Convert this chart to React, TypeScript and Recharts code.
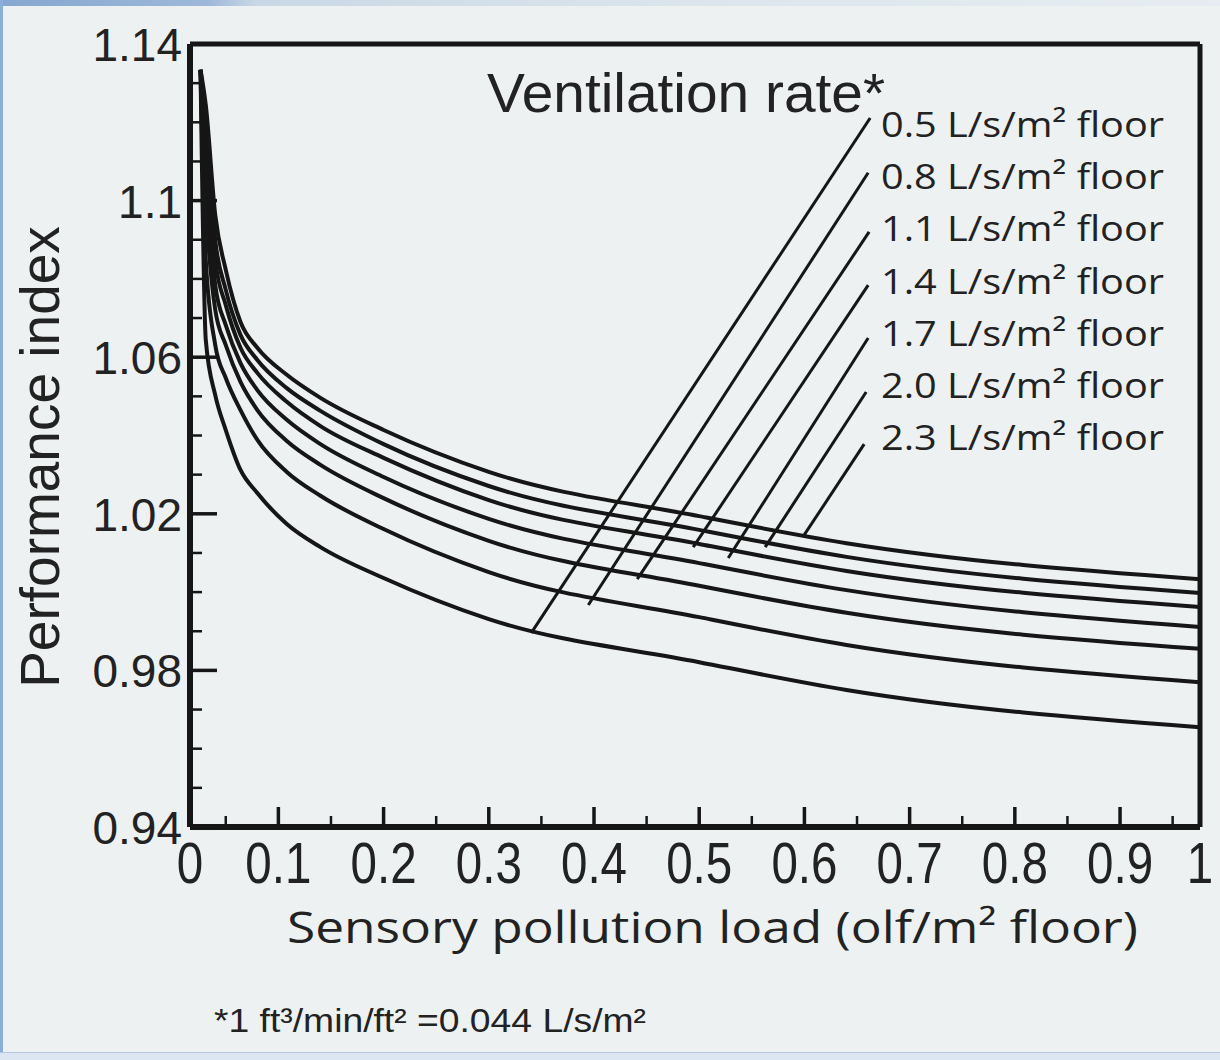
import { LineChart, Line, XAxis, YAxis, ReferenceLine } from 'recharts'

// sensory pollution load (x) sampled along every curve
const pollutionLoad = [0.026, 0.031, 0.04, 0.05, 0.064, 0.08, 0.108, 0.14, 0.2, 0.3, 0.5, 0.64, 0.976]

// performance index per ventilation rate (L/s/m2 floor)
const rate05 = [1.1334, 1.0644, 1.0503, 1.0414, 1.0312, 1.0253, 1.0174, 1.0115, 1.0036, 0.9931, 0.9821, 0.975, 0.9655]
const rate08 = [1.1334, 1.0848, 1.0631, 1.0547, 1.0465, 1.0389, 1.0307, 1.0246, 1.0161, 1.0051, 0.9936, 0.9865, 0.977]
const rate11 = [1.1334, 1.1002, 1.0721, 1.0631, 1.0537, 1.0465, 1.0386, 1.0325, 1.024, 1.0131, 1.0016, 0.9947, 0.9855]
const rate14 = [1.1334, 1.1104, 1.0784, 1.0682, 1.0585, 1.0516, 1.044, 1.0378, 1.0294, 1.0187, 1.0074, 1.0005, 0.9911]
const rate17 = [1.1334, 1.1168, 1.0848, 1.0733, 1.0624, 1.056, 1.0486, 1.0424, 1.0343, 1.0235, 1.0123, 1.0054, 0.9962]
const rate20 = [1.1334, 1.1211, 1.0899, 1.0772, 1.0657, 1.0593, 1.0521, 1.0463, 1.0378, 1.0271, 1.0159, 1.009, 0.9998]
const rate23 = [1.1334, 1.1244, 1.0963, 1.0823, 1.069, 1.0624, 1.0555, 1.0496, 1.0414, 1.0307, 1.0194, 1.0125, 1.0033]

const rateLabels = ['0.5', '0.8', '1.1', '1.4', '1.7', '2.0', '2.3']
const rateKeys = ['r05', 'r08', 'r11', 'r14', 'r17', 'r20', 'r23']
const rateSeries = [rate05, rate08, rate11, rate14, rate17, rate20, rate23]

// leader lines from each label down to its curve
const leaderTopX = [0.6625, 0.6606, 0.6615, 0.6606, 0.6606, 0.6587, 0.6568]
const leaderTopY = [1.1211, 1.1071, 1.092, 1.0784, 1.0649, 1.0511, 1.0378]
const leaderEndX = [0.3404, 0.3946, 0.4411, 0.4943, 0.5276, 0.5627, 0.5998]
const leaderEndY = [0.9896, 0.9967, 1.0033, 1.0115, 1.0087, 1.0115, 1.0146]

const X_MIN = 0.016
const X_MAX = 0.976
const xTicks = [0.016, 0.05, 0.1, 0.15, 0.2, 0.25, 0.3, 0.35, 0.4, 0.45, 0.5, 0.55, 0.6, 0.65, 0.7, 0.75, 0.8, 0.85, 0.9, 0.95, 0.976]
const xMajor = [0.016, 0.1, 0.2, 0.3, 0.4, 0.5, 0.6, 0.7, 0.8, 0.9, 0.976]
const xMajorLabels = ['0', '0.1', '0.2', '0.3', '0.4', '0.5', '0.6', '0.7', '0.8', '0.9', '1']

const yTicks = [0.94, 0.95, 0.96, 0.97, 0.98, 0.99, 1.0, 1.01, 1.02, 1.03, 1.04, 1.05, 1.06, 1.07, 1.08, 1.09, 1.1, 1.11, 1.12, 1.13, 1.14]
const yMajor = [0.94, 0.98, 1.02, 1.06, 1.1, 1.14]
const yMajorLabels = ['0.94', '0.98', '1.02', '1.06', '1.1', '1.14']

const data = pollutionLoad.map((x, i) => {
  const row: Record<string, number> = { x }
  rateKeys.forEach((k, j) => { row[k] = rateSeries[j][i] })
  return row
})

const INK = '#161616'
const TEXT = '#222'
const ARIAL = '"Liberation Sans", Arial, sans-serif'
const HUMANIST = '"Open Sans", "Noto Sans", sans-serif'

const near = (a: number, b: number) => Math.abs(a - b) < 1e-6

function YTick({ x, y, payload }: any) {
  const i = yMajor.findIndex(v => near(v, payload.value))
  const major = i >= 0
  return (
    <g>
      <line x1={x} x2={x + (major ? 27 : 12)} y1={y} y2={y} stroke={INK} strokeWidth={major ? 3.5 : 2.5} />
      {major && (
        <text x={x - 8} y={y + 17} textAnchor="end" fontSize={46} fontFamily={ARIAL} fill={TEXT}>
          {yMajorLabels[i]}
        </text>
      )}
    </g>
  )
}

function XTick({ x, y, payload }: any) {
  const v = payload.value
  const i = xMajor.findIndex(t => near(t, v))
  const edge = near(v, X_MIN) || near(v, X_MAX)
  return (
    <g>
      {!edge && (
        <line x1={x} x2={x} y1={y} y2={y - (i >= 0 ? 20 : 11)} stroke={INK} strokeWidth={i >= 0 ? 3.5 : 2.5} />
      )}
      {i >= 0 && (
        <text
          transform={`translate(${x},${y + 56}) scale(0.82,1)`}
          textAnchor="middle"
          fontSize={58}
          fontFamily={ARIAL}
          fill={TEXT}
        >
          {xMajorLabels[i]}
        </text>
      )}
    </g>
  )
}

export default function App() {
  return (
    <div style={{ position: 'absolute', left: 0, top: 0, width: 1220, height: 1060, background: '#edf1f2', overflow: 'hidden' }}>
      {/* slide chrome */}
      <div style={{ position: 'absolute', left: 0, top: 0, width: 1220, height: 6, background: 'linear-gradient(to right, #86a7d0 0%, #9db8da 17%, #c9d8e6 21%, #dde6ee 60%, #e6ecf1 100%)' }} />
      <div style={{ position: 'absolute', left: 0, top: 0, width: 3, height: 1060, background: '#8aaed8' }} />
      <div style={{ position: 'absolute', left: 0, top: 1052, width: 1220, height: 8, background: '#dbe6f2', borderTop: '1px solid #b3c8e0' }} />

      <div style={{ position: 'absolute', left: 0, top: 0 }}>
        <LineChart width={1220} height={1060} data={data} margin={{ top: 44, right: 20, bottom: 173, left: 130 }}>
          <XAxis
            dataKey="x"
            type="number"
            domain={[X_MIN, X_MAX]}
            ticks={xTicks}
            interval={0}
            height={60}
            tickSize={0}
            tickMargin={0}
            tickLine={false}
            axisLine={{ stroke: INK, strokeWidth: 6 }}
            tick={(p: any) => <XTick {...p} />}
          />
          <YAxis
            type="number"
            domain={[0.94, 1.14]}
            ticks={yTicks}
            interval={0}
            width={60}
            tickSize={0}
            tickMargin={0}
            tickLine={false}
            axisLine={{ stroke: INK, strokeWidth: 6 }}
            tick={(p: any) => <YTick {...p} />}
          />
          <ReferenceLine y={1.14} stroke={INK} strokeWidth={5} />
          <ReferenceLine x={X_MAX} stroke={INK} strokeWidth={5} />
          {rateKeys.map(k => (
            <Line
              key={k}
              dataKey={k}
              type="monotone"
              stroke={INK}
              strokeWidth={4}
              dot={false}
              isAnimationActive={false}
            />
          ))}
          {leaderTopX.map((tx, i) => (
            <ReferenceLine
              key={`leader-${i}`}
              segment={[{ x: tx, y: leaderTopY[i] }, { x: leaderEndX[i], y: leaderEndY[i] }]}
              stroke={INK}
              strokeWidth={3}
            />
          ))}
        </LineChart>
      </div>

      {/* titles and annotations */}
      <svg width={1220} height={1060} style={{ position: 'absolute', left: 0, top: 0, pointerEvents: 'none' }}>
        <text
          transform="translate(59,457) rotate(-90)"
          textAnchor="middle"
          fontSize={55}
          fontFamily={ARIAL}
          fill={TEXT}
        >
          Performance index
        </text>
        <text x={487} y={112} fontSize={55} fontFamily={ARIAL} fill={TEXT} textLength={398} lengthAdjust="spacingAndGlyphs">
          Ventilation rate*
        </text>
        {rateLabels.map((r, i) => (
          <text
            key={r}
            x={881}
            y={137 + i * 52.2}
            fontSize={35}
            fontFamily={HUMANIST}
            fill={TEXT}
            textLength={283}
            lengthAdjust="spacingAndGlyphs"
          >
            {`${r} L/s/m² floor`}
          </text>
        ))}
        <text x={287} y={943} fontSize={44} fontFamily={HUMANIST} fill={TEXT} textLength={851} lengthAdjust="spacingAndGlyphs">
          Sensory pollution load (olf/m² floor)
        </text>
        <text x={214} y={1032} fontSize={34} fontFamily={ARIAL} fill={TEXT} textLength={432} lengthAdjust="spacingAndGlyphs">
          *1 ft³/min/ft² =0.044 L/s/m²
        </text>
      </svg>
    </div>
  )
}
